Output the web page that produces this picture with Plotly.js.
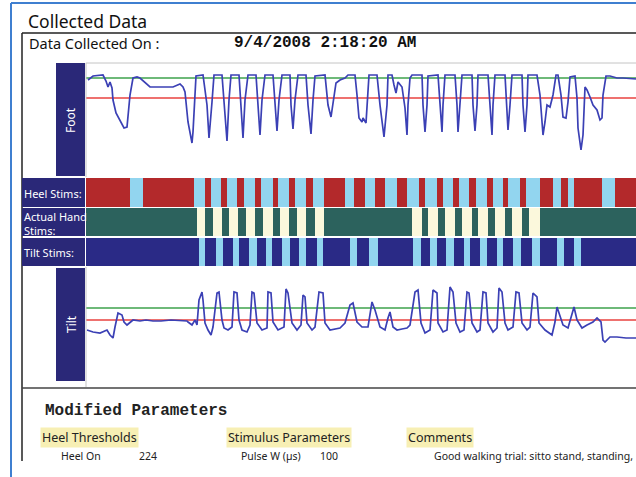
<!DOCTYPE html>
<html>
<head>
<meta charset="utf-8">
<script src="https://cdn.plot.ly/plotly-3.0.1.min.js"></script>
<style>html,body{margin:0;padding:0;background:#fff;}#chart{width:636px;height:477px;}</style>
</head>
<body>
<div id="chart"></div>
<script>
// ---- Data (time in samples, sensor values in raw units) ----
const footT = [2,7,17,20,22,24,26,27,30,34,38,41,44,47,51,54,61,64,81,87,94,97,99,102,106,107,110,117,
  121,123,126,128,136,138,141,143,145,153,155,157,159,162,170,172,174,176,179,187,189,191,193,196,204,
  205,207,209,212,220,222,225,227,229,239,242,245,247,250,254,259,262,269,271,273,276,277,280,281,283,291,
  294,298,301,302,306,308,310,312,316,319,321,322,324,326,336,337,339,341,342,352,354,356,357,359,369,
  371,372,374,376,386,387,389,391,392,402,404,406,407,409,419,421,422,424,426,436,437,439,441,442,451,
  454,457,459,461,464,467,470,472,475,477,480,482,484,489,491,492,495,497,499,501,504,507,511,514,516,517,
  520,524,531,537,550];
const footV = [96,100,101,95,89,94,88,76,63,56,48,49,81,98,99,98,91,89,89,89,92,89,84,54,33,44,100,101,
  71,38,74,101,101,71,35,76,101,101,71,38,76,101,101,71,41,76,101,101,71,45,76,101,101,
  71,47,76,101,101,71,42,76,100,101,71,59,71,93,96,98,101,101,81,58,54,58,53,71,101,101,
  71,39,71,101,101,91,83,94,89,68,41,71,98,101,101,71,44,71,100,101,71,44,71,101,101,
  71,44,71,101,101,71,45,71,101,101,71,41,71,101,101,71,46,71,101,101,71,44,71,101,101,
  81,41,54,71,69,81,101,101,81,59,58,74,99,100,78,48,26,41,89,86,79,71,66,56,58,81,
  100,100,98,98,97];
const tiltT = [1,7,14,17,21,24,27,29,32,36,38,41,44,47,54,60,67,75,85,95,101,102,106,109,111,113,116,117,119,122,125,127,
  131,133,136,138,142,146,148,151,153,156,161,164,166,168,171,176,181,182,185,187,192,198,200,202,206,211,215,217,219,221,
  226,229,233,237,239,244,249,254,259,264,267,271,276,282,286,289,294,299,302,304,307,311,316,321,324,329,332,335,339,344,
  347,351,352,357,361,364,367,370,374,378,381,383,386,391,394,397,400,402,407,411,413,416,419,422,427,430,433,436,441,444,
  447,451,453,459,466,469,471,474,477,482,486,488,491,496,501,507,511,515,517,519,524,531,540,550];
const tiltV = [55,53,52,53,55,50,47,58,72,70,63,60,63,65,64,65,64,64,65,64,64,63,60,65,60,85,93,85,62,55,50,58,
  92,93,65,57,55,58,93,92,65,55,53,60,93,92,62,55,57,93,92,63,55,58,96,92,62,55,60,90,88,62,
  55,58,93,92,62,55,56,57,62,80,82,63,58,58,83,75,58,55,67,73,58,55,56,57,60,93,95,62,52,55,
  95,92,62,53,55,98,93,62,53,55,93,92,62,53,55,93,92,62,53,57,97,93,62,55,58,93,92,62,55,58,
  92,88,62,55,50,63,78,70,60,57,72,78,65,57,60,63,67,63,45,43,48,48,47,47];
const footThreshHigh = 98, footThreshLow = 78;
const tiltThreshHigh = 77, tiltThreshLow = 65;
// stimulation on/off segments: edges (samples) and state per segment (0 = off, 1 = on)
const heelEdges = [0,44,57,108,119,125,135,141,151,158,169,175,187,192,203,209,220,227,238,259,268,279,289,299,311,321,333,339,351,357,367,373,383,390,401,407,417,422,434,440,454,467,475,482,488,516,529,550];
const heelState = [0,1,0,1,0,1,0,1,0,1,0,1,0,1,0,1,0,1,0,1,0,1,0,1,0,1,0,1,0,1,0,1,0,1,0,1,0,1,0,1,0,1,0,1,0,1,0];
const handEdges = [0,111,119,127,136,143,152,160,169,177,187,194,203,211,220,229,238,326,336,342,352,359,369,376,386,392,402,409,419,426,436,443,454,550];
const handState = [0,1,0,1,0,1,0,1,0,1,0,1,0,1,0,1,0,1,0,1,0,1,0,1,0,1,0,1,0,1,0,1,0];
const tiltStimEdges = [0,113,119,130,137,147,153,163,171,180,186,196,204,213,220,231,237,264,271,283,292,327,335,344,351,360,368,378,384,394,401,411,417,427,435,446,454,471,478,488,495,550];
const tiltStimState = [0,1,0,1,0,1,0,1,0,1,0,1,0,1,0,1,0,1,0,1,0,1,0,1,0,1,0,1,0,1,0,1,0,1,0,1,0,1,0,1,0];
const rowLabels = ['Heel Stims:', 'Actual Hand<br>Stims:', 'Tilt Stims:'];
const panelLabels = ['Foot', 'Tilt'];
const headerTitle = 'Collected Data';
const dateLabel = 'Data Collected On :';
const dateValue = '9/4/2008 2:18:20 AM';
const paramTitle = 'Modified Parameters';
const paramHeaders = ['Heel Thresholds', 'Stimulus Parameters', 'Comments'];
const paramNames = ['Heel On', 'Pulse W (µs)'];
const paramValues = ['224', '100'];
const commentText = 'Good walking trial: sitto stand, standing,';
const T_MAX = 550;

// ---- Layout helpers (pixel -> paper) ----
const W = 636, H = 477;
const px = x => x / W;
const py = y => 1 - y / H;
const dom = (top, bottom) => [py(bottom), py(top)];

const NAVY = '#2a2878';
const sans = 'Noto Sans, Liberation Sans, sans-serif';
const mono = 'Liberation Mono, Courier New, monospace';

function binScale(off, on) { return [[0, off], [0.5, off], [0.5, on], [1, on]]; }

const traces = [
  {type: 'scatter', mode: 'lines', x: [0, T_MAX], y: [footThreshHigh, footThreshHigh], xaxis: 'x', yaxis: 'y',
   line: {color: '#3ea24c', width: 1.5}, hoverinfo: 'skip'},
  {type: 'scatter', mode: 'lines', x: [0, T_MAX], y: [footThreshLow, footThreshLow], xaxis: 'x', yaxis: 'y',
   line: {color: '#e8423f', width: 1.5}, hoverinfo: 'skip'},
  {type: 'scatter', mode: 'lines', x: footT, y: footV, xaxis: 'x', yaxis: 'y',
   line: {color: '#3b40b5', width: 1.7}, hoverinfo: 'skip'},
  {type: 'heatmap', x: heelEdges, y: [0], z: [heelState], xaxis: 'x', yaxis: 'y2', zmin: 0, zmax: 1,
   colorscale: binScale('#b3292b', '#92d5ef'), showscale: false, hoverinfo: 'skip'},
  {type: 'heatmap', x: handEdges, y: [0], z: [handState], xaxis: 'x', yaxis: 'y3', zmin: 0, zmax: 1,
   colorscale: binScale('#2c625d', '#fbf8dc'), showscale: false, hoverinfo: 'skip'},
  {type: 'heatmap', x: tiltStimEdges, y: [0], z: [tiltStimState], xaxis: 'x', yaxis: 'y4', zmin: 0, zmax: 1,
   colorscale: binScale('#2a2a86', '#92d5ef'), showscale: false, hoverinfo: 'skip'},
  {type: 'scatter', mode: 'lines', x: [0, T_MAX], y: [tiltThreshHigh, tiltThreshHigh], xaxis: 'x', yaxis: 'y5',
   line: {color: '#3ea24c', width: 1.5}, hoverinfo: 'skip'},
  {type: 'scatter', mode: 'lines', x: [0, T_MAX], y: [tiltThreshLow, tiltThreshLow], xaxis: 'x', yaxis: 'y5',
   line: {color: '#e8423f', width: 1.5}, hoverinfo: 'skip'},
  {type: 'scatter', mode: 'lines', x: tiltT, y: tiltV, xaxis: 'x', yaxis: 'y5',
   line: {color: '#3b40b5', width: 1.7}, hoverinfo: 'skip'}
];

const hidden = {visible: false, fixedrange: true};
const shapes = [];
function rect(x0, y0, x1, y1, color) {
  shapes.push({type: 'rect', xref: 'paper', yref: 'paper', x0: px(x0), x1: px(x1), y0: py(y1), y1: py(y0),
    fillcolor: color, line: {width: 0}, layer: 'above'});
}
function line(x0, y0, x1, y1, color, w) {
  shapes.push({type: 'line', xref: 'paper', yref: 'paper', x0: px(x0), x1: px(x1), y0: py(y0), y1: py(y1),
    line: {color: color, width: w}, layer: 'above'});
}
// outer blue frame
line(11, 3, 636, 3, '#3f7fd0', 2);
line(11, 3, 11, 477, '#3f7fd0', 2);
// inner black frame
line(22, 33, 636, 33, '#222', 1.5);
line(22, 33, 22, 461, '#222', 1.5);
line(22, 388, 636, 388, '#444', 1.5);
// plot frames
line(86, 63, 636, 63, '#c4c4c4', 1);
line(86, 63, 86, 177, '#c4c4c4', 1);
line(86, 267, 86, 387, '#c4c4c4', 1);
// label boxes
rect(56, 63, 85, 176, NAVY);
rect(22, 178, 85, 207, NAVY);
rect(22, 208, 85, 236, NAVY);
rect(22, 238, 85, 266, NAVY);
rect(56, 268, 85, 381, NAVY);

const ann = [];
function txt(text, x, y, size, opts) {
  ann.push(Object.assign({text: text, xref: 'paper', yref: 'paper', x: px(x), y: py(y), xanchor: 'left',
    yanchor: 'middle', showarrow: false, font: {family: sans, size: size, color: '#111'}}, opts || {}));
}
txt(headerTitle, 26, 21, 17.5);
txt(dateLabel, 27, 43, 14.5);
txt('<b>' + dateValue + '</b>', 232, 43, 16, {font: {family: mono, size: 16, color: '#111'}});
txt(panelLabels[0], 71, 120, 12, {xanchor: 'center', textangle: -90, font: {family: sans, size: 12, color: '#fff'}});
txt(panelLabels[1], 71, 324, 12, {xanchor: 'center', textangle: -90, font: {family: sans, size: 12, color: '#fff'}});
txt(rowLabels[0], 22, 193, 11, {font: {family: sans, size: 11, color: '#fff'}});
txt(rowLabels[1], 22, 223, 11, {align: 'left', font: {family: sans, size: 11, color: '#fff'}});
txt(rowLabels[2], 22, 252, 11, {font: {family: sans, size: 11, color: '#fff'}});
txt('<b>' + paramTitle + '</b>', 43, 411, 16, {font: {family: mono, size: 16, color: '#222'}});
const hdrX = [40, 226, 406];
paramHeaders.forEach((h, i) => txt(h, hdrX[i], 437, 12.5, {bgcolor: '#f7efb4', borderpad: 1,
  font: {family: sans, size: 12.5, color: '#222'}}));
txt(paramNames[0], 59, 456, 10.5, {font: {family: sans, size: 10.5, color: '#222'}});
txt(paramValues[0], 137, 456, 10.5, {font: {family: sans, size: 10.5, color: '#222'}});
txt(paramNames[1], 239, 456, 10.5, {font: {family: sans, size: 10.5, color: '#222'}});
txt(paramValues[1], 318, 456, 10.5, {font: {family: sans, size: 10.5, color: '#222'}});
txt(commentText, 432, 456, 10.5, {font: {family: sans, size: 10.5, color: '#222'}});

const layout = {
  width: W, height: H, margin: {l: 0, r: 0, t: 0, b: 0},
  paper_bgcolor: '#ffffff', plot_bgcolor: '#ffffff', showlegend: false,
  xaxis: Object.assign({domain: [px(86), 1], range: [0, T_MAX], anchor: 'y'}, hidden),
  yaxis: Object.assign({domain: dom(63, 176), range: [0, 113]}, hidden),
  yaxis2: Object.assign({domain: dom(178, 207), range: [-0.5, 0.5]}, hidden),
  yaxis3: Object.assign({domain: dom(208, 236), range: [-0.5, 0.5]}, hidden),
  yaxis4: Object.assign({domain: dom(238, 266), range: [-0.5, 0.5]}, hidden),
  yaxis5: Object.assign({domain: dom(267, 385), range: [0, 118]}, hidden),
  shapes: shapes, annotations: ann
};
Plotly.newPlot('chart', traces, layout, {staticPlot: true, displayModeBar: false});
</script>
</body>
</html>
